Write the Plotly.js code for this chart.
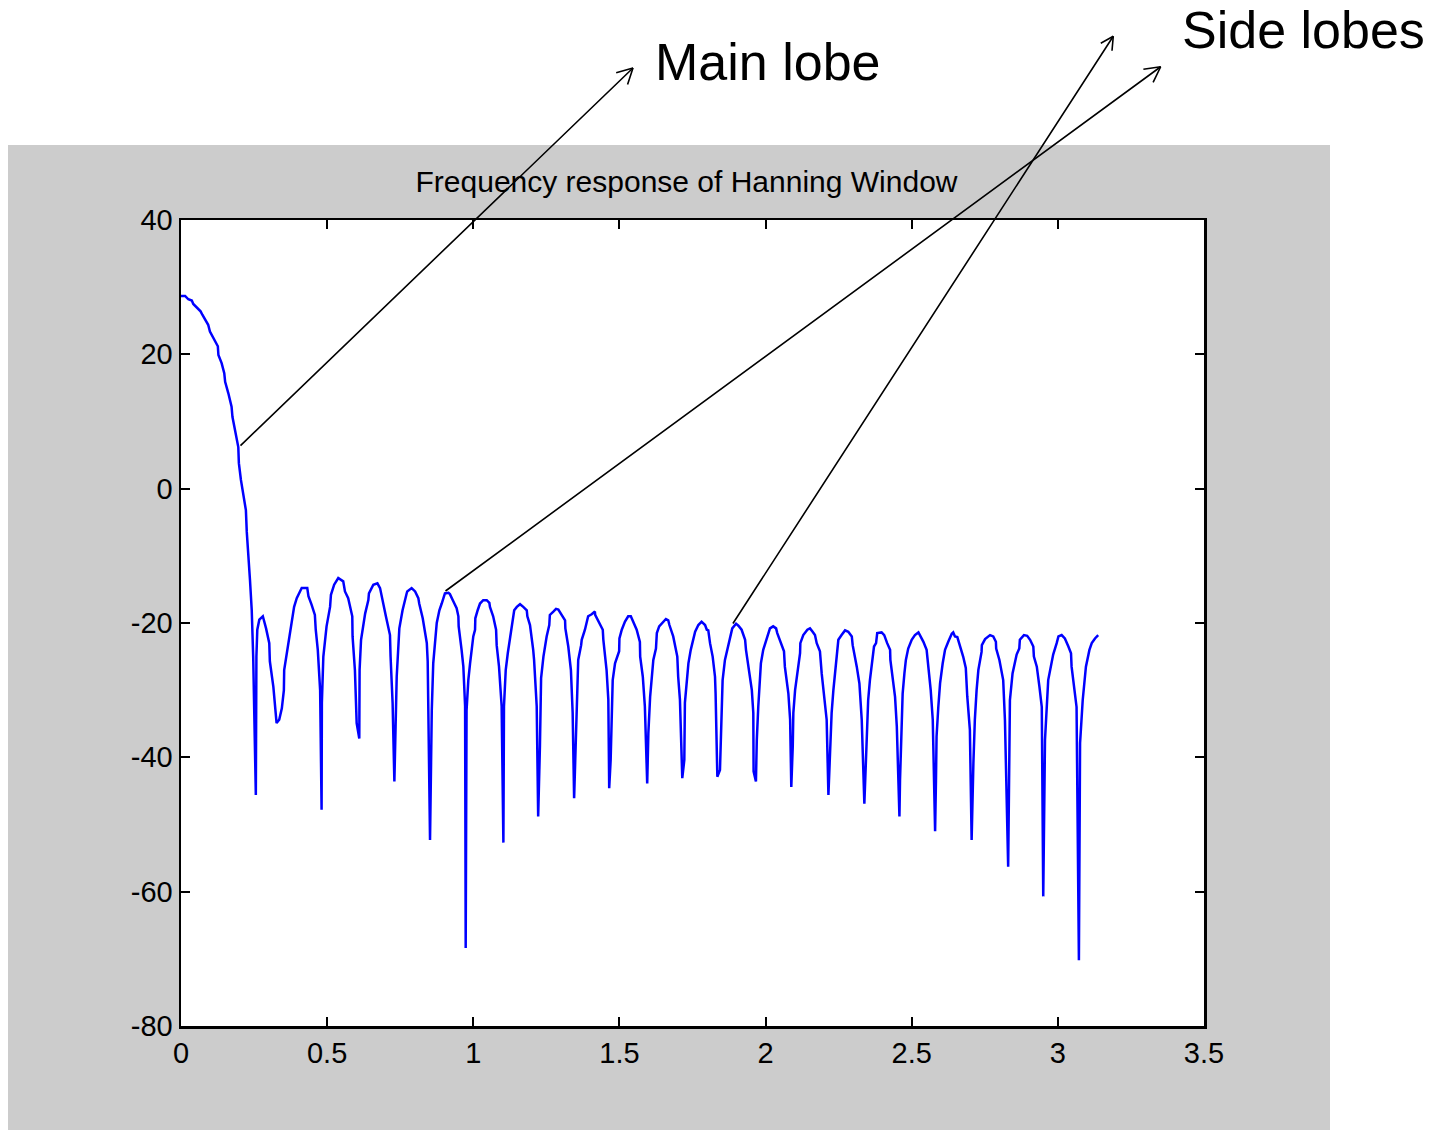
<!DOCTYPE html>
<html>
<head>
<meta charset="utf-8">
<script src="https://cdn.plot.ly/plotly-3.0.1.min.js"></script>
<style>
  html, body { margin: 0; padding: 0; background: #ffffff; }
  #frame { position: absolute; left: 8px; top: 145px; width: 1322px; height: 985px; background: #cccccc; }
  #plot { position: absolute; left: 0; top: 0; width: 1443px; height: 1130px; }
</style>
</head>
<body>
<div id="frame"></div>
<div id="plot"></div>
<script>
// Hanning window magnitude response, frequency in rad/sample, magnitude in dB
const freqRad = [
  0, 0.014, 0.025, 0.037, 0.042, 0.054, 0.067, 0.073, 0.085, 0.093, 0.099, 0.111, 0.126, 0.128, 0.139, 0.148, 0.151, 0.162, 0.173, 0.176, 0.185, 0.196, 0.198, 0.205, 0.222, 0.225, 0.236, 0.242, 0.247, 0.256,
  0.258, 0.261, 0.268, 0.280, 0.291, 0.302, 0.304, 0.316, 0.327,
  0.336, 0.345, 0.352, 0.353, 0.362, 0.373, 0.384, 0.387, 0.396, 0.411, 0.413, 0.432, 0.436, 0.447, 0.458, 0.461, 0.468, 0.476, 0.481,
  0.482, 0.487, 0.498, 0.510, 0.513, 0.524, 0.538, 0.550, 0.555, 0.561, 0.572, 0.586, 0.587, 0.595, 0.601, 0.610,
  0.611, 0.616, 0.630, 0.641, 0.643, 0.658, 0.672, 0.681, 0.689, 0.701, 0.715, 0.717, 0.724, 0.730,
  0.736, 0.738, 0.747, 0.749, 0.758, 0.772, 0.774, 0.789, 0.801, 0.812, 0.815, 0.827, 0.841, 0.844, 0.852,
  0.858, 0.863, 0.875, 0.884, 0.892, 0.900, 0.903, 0.915, 0.920, 0.932, 0.943, 0.949, 0.950, 0.960, 0.966, 0.972, 0.974,
  0.977, 0.983, 0.989, 1.000, 1.006, 1.007, 1.015, 1.023, 1.034, 1.046, 1.055, 1.057, 1.068, 1.078, 1.080, 1.088, 1.097, 1.103,
  1.105, 1.111, 1.118, 1.126, 1.131, 1.135, 1.140, 1.149, 1.160, 1.171, 1.183, 1.185, 1.194, 1.205, 1.208, 1.217, 1.222,
  1.228, 1.232, 1.240, 1.251, 1.260, 1.262, 1.274, 1.283, 1.291, 1.302, 1.314, 1.315, 1.325, 1.334, 1.340, 1.345,
  1.348, 1.354, 1.356, 1.359, 1.369, 1.371, 1.382, 1.391, 1.393, 1.405, 1.416, 1.417, 1.428, 1.443, 1.445, 1.456, 1.462, 1.465,
  1.470, 1.474, 1.477, 1.485, 1.499, 1.500, 1.508, 1.519, 1.530, 1.539, 1.547, 1.559, 1.570, 1.571, 1.580, 1.587, 1.595,
  1.599, 1.605, 1.610, 1.616, 1.625, 1.628, 1.636, 1.648, 1.659, 1.667, 1.671, 1.684, 1.698, 1.701, 1.707, 1.715,
  1.722, 1.724, 1.730, 1.736, 1.744, 1.753, 1.759, 1.770, 1.781, 1.793, 1.799, 1.804, 1.810, 1.819, 1.827, 1.829, 1.835,
  1.844, 1.848, 1.853, 1.861, 1.873, 1.884, 1.886, 1.899, 1.907, 1.918, 1.930, 1.933, 1.944, 1.953, 1.958, 1.959, 1.967,
  1.970, 1.975, 1.981, 1.984, 1.992, 2.004, 2.015, 2.026, 2.036, 2.040, 2.052, 2.063, 2.066, 2.078, 2.084, 2.088,
  2.093, 2.095, 2.101, 2.110, 2.118, 2.119, 2.129, 2.143, 2.152, 2.161, 2.169, 2.175, 2.186, 2.192, 2.200, 2.209, 2.215,
  2.220, 2.226, 2.232, 2.238, 2.243, 2.249, 2.260, 2.272, 2.283, 2.295, 2.298, 2.306, 2.312, 2.321, 2.329, 2.338,
  2.346, 2.351, 2.357, 2.363, 2.371, 2.378, 2.382, 2.397, 2.406, 2.416, 2.426, 2.427, 2.437, 2.443, 2.449, 2.458,
  2.460, 2.466, 2.469, 2.475, 2.480, 2.488, 2.500, 2.511, 2.523, 2.528, 2.540, 2.551, 2.557, 2.565, 2.572, 2.580,
  2.583, 2.585, 2.591, 2.597, 2.606, 2.614, 2.625, 2.637, 2.642, 2.648, 2.656, 2.665, 2.676, 2.685, 2.690, 2.699, 2.705,
  2.711, 2.716, 2.722, 2.728, 2.739, 2.740, 2.751, 2.768, 2.779, 2.788, 2.789, 2.800, 2.813, 2.819, 2.830,
  2.836, 2.845, 2.853, 2.859, 2.868, 2.870, 2.884, 2.895, 2.905, 2.916, 2.918, 2.928, 2.937, 2.945, 2.950,
  2.956, 2.967, 2.976, 2.984, 2.996, 3.002, 3.013, 3.024, 3.036, 3.045, 3.047, 3.055, 3.064, 3.072,
  3.076, 3.085, 3.096, 3.108, 3.116, 3.127, 3.138
];
const magDb = [
  28.7, 28.7, 28.2, 28.0, 27.5, 27.0, 26.4, 25.9, 25.1, 24.4, 23.4, 22.4, 21.2, 19.9, 18.7, 17.2, 15.9, 14.2, 12.2, 10.7, 8.7, 6.2, 3.8, 1.3, -3.2, -6.4, -13.6, -18.1, -25.0, -45.6,
  -25.0, -21.0, -19.5, -19.0, -20.8, -23.0, -25.7, -29.5, -34.9,
  -34.4, -32.7, -30.0, -27.0, -24.5, -21.5, -19.0, -17.6, -16.3, -15.1, -14.8, -14.8, -16.0, -17.3, -18.8, -21.0, -24.0, -30.0, -47.8,
  -31.9, -25.0, -20.5, -17.6, -15.8, -14.3, -13.3, -13.7, -13.8, -15.3, -16.3, -19.0, -22.0, -27.0, -34.9, -37.2,
  -27.0, -22.5, -18.6, -16.6, -15.6, -14.3, -14.1, -14.8, -16.3, -19.0, -21.8, -25.0, -31.9, -43.6,
  -31.9, -28.0, -20.8, -20.3, -18.1, -15.6, -15.3, -14.8, -15.3, -16.3, -17.1, -19.3, -23.0, -25.7, -52.3,
  -33.0, -26.0, -20.0, -18.1, -17.1, -15.8, -15.6, -15.5, -15.7, -16.8, -17.8, -19.0, -20.5, -24.0, -26.5, -32.4, -68.4,
  -33.0, -28.5, -26.0, -22.0, -21.0, -19.3, -18.1, -17.1, -16.6, -16.6, -17.0, -17.6, -19.0, -21.0, -23.3, -26.5, -32.4, -52.7,
  -32.4, -27.0, -24.5, -22.0, -20.3, -19.0, -18.1, -17.6, -17.2, -17.6, -18.1, -19.0, -20.3, -24.0, -25.5, -32.4, -48.8,
  -38.4, -28.2, -25.0, -22.0, -20.3, -18.8, -18.3, -17.9, -18.0, -18.8, -19.6, -20.8, -23.5, -27.0, -33.4, -46.1,
  -41.4, -32.4, -28.5, -25.5, -23.3, -22.5, -21.0, -19.6, -19.0, -18.7, -18.3, -18.8, -19.8, -21.0, -22.5, -27.0, -31.4, -44.6,
  -40.4, -33.0, -28.5, -26.0, -24.2, -22.3, -21.0, -19.8, -19.0, -19.0, -19.8, -21.0, -22.8, -25.0, -28.0, -32.4, -43.9,
  -36.4, -31.0, -28.0, -25.5, -23.8, -21.5, -20.5, -19.9, -19.4, -19.6, -20.3, -22.0, -25.0, -28.0, -31.4, -43.1,
  -40.4, -31.9, -29.0, -26.0, -24.0, -22.5, -21.3, -20.3, -19.8, -20.3, -21.0, -21.1, -23.0, -25.0, -28.0, -30.5, -42.9,
  -41.9, -34.4, -28.5, -25.5, -23.2, -21.3, -20.8, -20.1, -20.4, -21.0, -22.5, -24.0, -27.0, -30.0, -33.4, -42.1, -43.6,
  -37.4, -32.5, -28.5, -26.0, -24.0, -22.3, -20.8, -20.5, -20.8, -21.5, -22.8, -24.2, -26.5, -30.5, -34.4, -44.4,
  -38.4, -33.4, -30.0, -27.0, -24.5, -23.0, -21.8, -21.0, -20.8, -21.3, -21.8, -23.0, -24.2, -27.5, -30.5, -34.4, -45.6,
  -38.4, -33.4, -30.0, -27.0, -25.3, -22.5, -21.8, -21.1, -21.3, -22.0, -23.3, -25.0, -26.5, -29.0, -34.4, -46.9,
  -35.9, -31.5, -28.5, -26.0, -23.5, -23.0, -21.5, -21.4, -21.8, -23.0, -24.0, -25.5, -28.5, -31.0, -35.4, -48.8,
  -43.4, -34.4, -30.5, -27.5, -25.5, -23.8, -22.5, -21.8, -21.4, -21.8, -22.8, -24.0, -26.5, -30.0, -34.4, -51.0,
  -43.4, -36.9, -32.5, -29.0, -26.0, -24.0, -22.8, -21.6, -21.4, -22.0, -22.1, -23.3, -25.0, -26.7, -30.9, -35.9, -52.3,
  -40.9, -34.4, -30.0, -27.0, -24.3, -23.3, -22.4, -21.8, -22.0, -22.8, -23.8, -25.5, -28.5, -34.5, -56.3,
  -31.5, -27.5, -25.7, -24.7, -23.8, -22.5, -21.8, -21.9, -22.5, -23.5, -25.0, -26.5, -29.5, -32.5, -60.7,
  -37.4, -28.5, -26.5, -24.7, -23.0, -22.0, -21.8, -22.3, -23.5, -24.5, -26.5, -29.0, -32.5, -70.2,
  -37.9, -31.5, -26.5, -24.0, -23.0, -22.3, -21.8
];

// Axis ticks
const xRange = [0, 3.5];
const yRange = [-80, 40];
const xTickVals = [0, 0.5, 1, 1.5, 2, 2.5, 3, 3.5];
const xTickText = ['0', '0.5', '1', '1.5', '2', '2.5', '3', '3.5'];
const yTickVals = [-80, -60, -40, -20, 0, 20, 40];
const yTickText = ['-80', '-60', '-40', '-20', '0', '20', '40'];

// Callout labels
const calloutLabels = ['Main lobe', 'Side lobes'];

const FONT = 'Liberation Sans, Arial, Helvetica, sans-serif';

// data -> paper fraction, so callouts above the axes stay visible
const px = x => (x - xRange[0]) / (xRange[1] - xRange[0]);
const py = y => (y - yRange[0]) / (yRange[1] - yRange[0]);

// Callout arrows: tail on the curve, head near the label (data coordinates)
const arrows = [
  { tail: [0.1984, 6.2],  head: [1.5464, 62.63], wings: [[-18.3, 5.2], [-5.9, 18.1]] },
  { tail: [0.8998, -15.4], head: [3.3518, 62.82], wings: [[-18.8, 2.7], [-8.3, 17.1]] },
  { tail: [1.8850, -20.3], head: [3.1896, 67.35], wings: [[-14.0, 7.8], [-1.4, 16.0]] }
];

const annotations = [];
arrows.forEach(a => {
  annotations.push({
    xref: 'x', yref: 'y', axref: 'x', ayref: 'y',
    x: a.head[0], y: a.head[1], ax: a.tail[0], ay: a.tail[1],
    text: '', showarrow: true, arrowhead: 0, arrowwidth: 1.6,
    arrowcolor: '#000000', standoff: 0, startstandoff: 0
  });
  // open arrowhead: two short strokes meeting at the tip
  a.wings.forEach(w => {
    annotations.push({
      xref: 'paper', yref: 'paper',
      x: px(a.head[0]), y: py(a.head[1]), ax: w[0], ay: w[1],
      text: '', showarrow: true, arrowhead: 0, arrowwidth: 1.6,
      arrowcolor: '#000000', standoff: 0, startstandoff: 0
    });
  });
});
annotations.push({
  xref: 'paper', yref: 'paper', x: px(1.6148), y: py(63.5), xanchor: 'left', yanchor: 'middle',
  text: calloutLabels[0], showarrow: false,
  font: { family: FONT, size: 52, color: '#000000' }
});
annotations.push({
  xref: 'paper', yref: 'paper', x: px(3.418), y: py(68.3), xanchor: 'left', yanchor: 'middle',
  text: calloutLabels[1], showarrow: false,
  font: { family: FONT, size: 52, color: '#000000' }
});

const trace = {
  x: freqRad, y: magDb, type: 'scatter', mode: 'lines',
  line: { color: '#0000ff', width: 2.5 },
  hoverinfo: 'skip'
};

const axisCommon = {
  showline: true, linecolor: '#000000', linewidth: 2.5, mirror: 'ticks',
  ticks: 'inside', ticklen: 9, tickwidth: 2, tickcolor: '#000000',
  showgrid: false, zeroline: false,
  tickfont: { family: FONT, size: 29, color: '#000000' },
  tickmode: 'array', fixedrange: true
};

const layout = {
  width: 1443, height: 1130,
  margin: { l: 181, r: 239, t: 220, b: 104, pad: 0 },
  paper_bgcolor: 'rgba(0,0,0,0)',
  plot_bgcolor: '#ffffff',
  showlegend: false,
  title: {
    text: 'Frequency response of Hanning Window',
    font: { family: FONT, size: 30, color: '#000000' },
    xref: 'container', yref: 'container',
    x: 686.5 / 1443, y: 1 - 181 / 1130, xanchor: 'center', yanchor: 'middle'
  },
  xaxis: Object.assign({}, axisCommon, {
    range: xRange, tickvals: xTickVals, ticktext: xTickText
  }),
  yaxis: Object.assign({}, axisCommon, {
    range: yRange, tickvals: yTickVals, ticktext: yTickText
  }),
  annotations: annotations
};

Plotly.newPlot('plot', [trace], layout, { displayModeBar: false, staticPlot: true });
</script>
</body>
</html>
